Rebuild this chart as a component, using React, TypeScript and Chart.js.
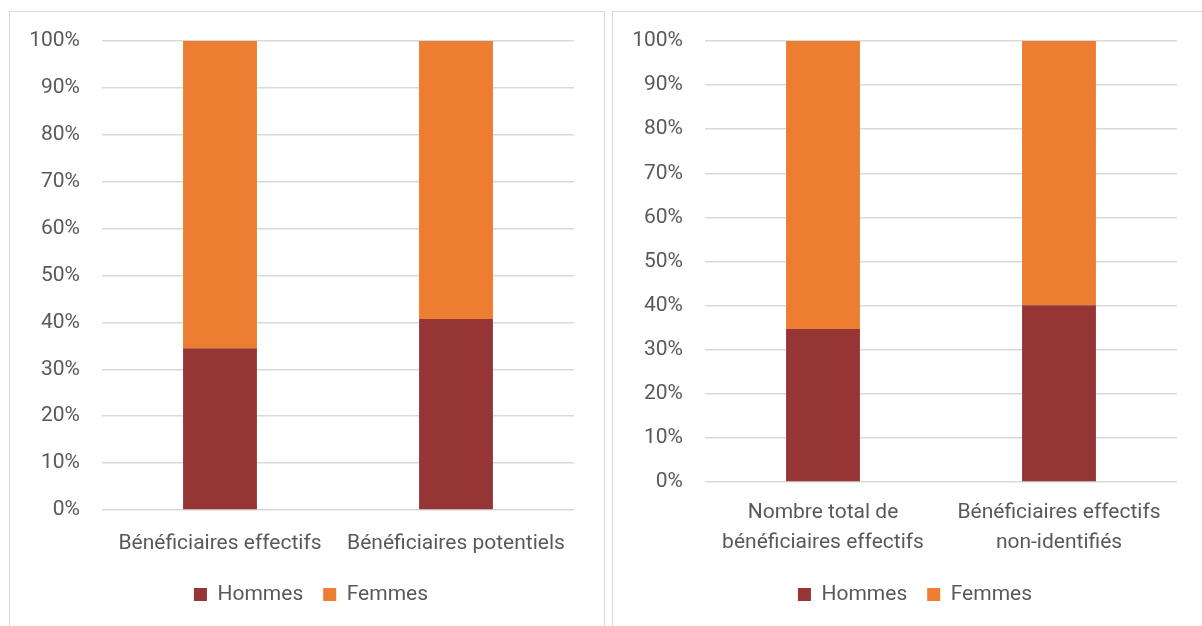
import { useEffect, useRef } from "react";
import { Chart, registerables } from "chart.js";

Chart.register(...registerables);

// Series and category data
const seriesNames = ["Hommes", "Femmes"];
const seriesColors = ["#963634", "#ED7D31"];

const leftCategories = ["Bénéficiaires effectifs", "Bénéficiaires potentiels"];
const leftHommes = [34.5, 40.7];
const leftFemmes = [65.5, 59.3];

const rightCategories = [
  ["Nombre total de", "bénéficiaires effectifs"],
  ["Bénéficiaires effectifs", "non-identifiés"],
];
const rightHommes = [34.7, 40.1];
const rightFemmes = [65.3, 59.9];

const yTickValues = [0, 10, 20, 30, 40, 50, 60, 70, 80, 90, 100];

const TEXT = "#595959";
const GRID = "#d9d9d9";
const FONT = "Roboto";

type PanelProps = {
  left: number;
  categories: (string | string[])[];
  hommes: number[];
  femmes: number[];
  xAxisHeight: number;
  labelPadding: number;
  padLeft: number;
};

function Panel({ left, categories, hommes, femmes, xAxisHeight, labelPadding, padLeft }: PanelProps) {
  const ref = useRef<HTMLCanvasElement>(null);

  useEffect(() => {
    if (!ref.current) return;
    const chart = new Chart(ref.current, {
      type: "bar",
      data: {
        labels: categories,
        datasets: [
          {
            label: seriesNames[0],
            data: hommes,
            backgroundColor: seriesColors[0],
            categoryPercentage: 1,
            barPercentage: 0.313,
          },
          {
            label: seriesNames[1],
            data: femmes,
            backgroundColor: seriesColors[1],
            categoryPercentage: 1,
            barPercentage: 0.313,
          },
        ],
      },
      options: {
        responsive: false,
        animation: false,
        layout: { padding: { top: 29, right: 0, left: padLeft, bottom: 0 } },
        plugins: {
          tooltip: { enabled: false },
          legend: {
            position: "bottom",
            labels: {
              boxWidth: 13,
              boxHeight: 13,
              padding: 20,
              color: TEXT,
              font: { family: FONT, size: 21 },
            },
          },
        },
        scales: {
          x: {
            stacked: true,
            grid: { display: false },
            border: { display: false },
            ticks: {
              color: TEXT,
              padding: labelPadding,
              maxRotation: 0,
              autoSkip: false,
              font: { family: FONT, size: 21, lineHeight: 1.43 },
            },
            afterFit: (scale: any) => {
              scale.height = xAxisHeight;
            },
          },
          y: {
            stacked: true,
            min: 0,
            max: 100,
            border: { display: false },
            grid: { color: GRID, lineWidth: 1.5, drawTicks: false },
            afterBuildTicks: (scale: any) => {
              scale.ticks = yTickValues.map((v) => ({ value: v }));
            },
            ticks: {
              color: TEXT,
              padding: 22,
              font: { family: FONT, size: 21, lineHeight: 0.66 },
              callback: (v: any) => `${v}%`,
            },
            afterFit: (scale: any) => {
              scale.width = 92 - padLeft;
            },
          },
          // empty spacer on the right side of the plot
          spacer: {
            type: "linear",
            position: "right",
            grid: { display: false },
            border: { display: false },
            ticks: { display: false, padding: 0 },
            afterFit: (scale: any) => {
              scale.width = 30;
            },
          },
        },
      },
    });
    return () => chart.destroy();
  }, []);

  return (
    <div
      style={{
        position: "absolute",
        left,
        top: 11,
        width: 594,
        height: 640,
        border: "1px solid #d9d9d9",
        background: "#fff",
      }}
    >
      <canvas ref={ref} width={594} height={603} style={{ display: "block" }} />
    </div>
  );
}

export default function App() {
  return (
    <div>
      <Panel
        left={9}
        categories={leftCategories}
        hommes={leftHommes}
        femmes={leftFemmes}
        xAxisHeight={54}
        labelPadding={11}
        padLeft={8}
      />
      <Panel
        left={612}
        categories={rightCategories}
        hommes={rightHommes}
        femmes={rightFemmes}
        xAxisHeight={82}
        labelPadding={8}
        padLeft={10}
      />
    </div>
  );
}
